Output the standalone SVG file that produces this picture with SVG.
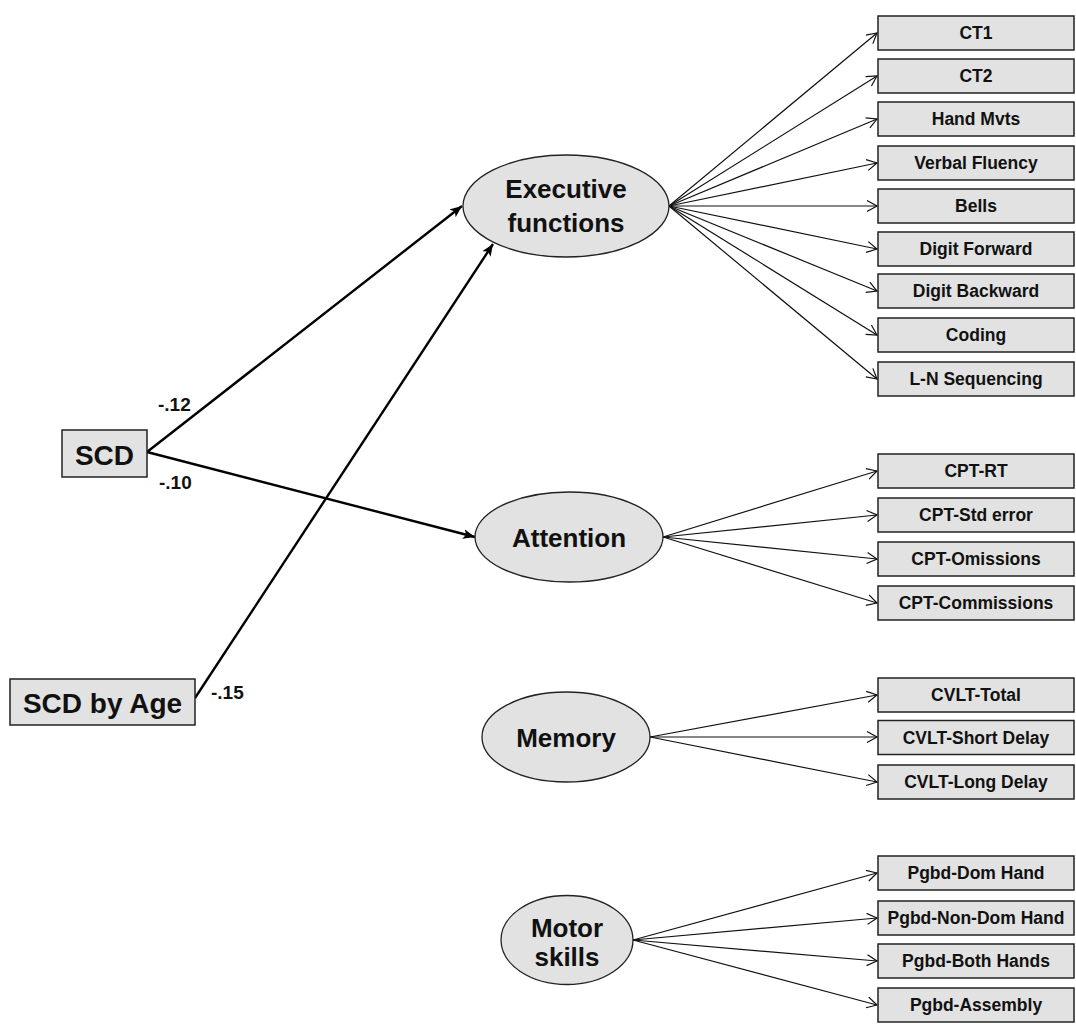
<svg xmlns="http://www.w3.org/2000/svg" width="1076" height="1030" viewBox="0 0 1076 1030">
<style>
.box{fill:#e2e2e2;stroke:#222;stroke-width:1.5}
.ell{fill:#e2e2e2;stroke:#222;stroke-width:1.3}
.bt{font-family:"Liberation Sans",Arial,sans-serif;font-weight:bold;font-size:17.5px;text-anchor:middle;fill:#111}
.et{font-family:"Liberation Sans",Arial,sans-serif;font-weight:bold;font-size:26px;text-anchor:middle;fill:#111}
.st{font-family:"Liberation Sans",Arial,sans-serif;font-weight:bold;font-size:28px;text-anchor:middle;fill:#111}
.lab{font-family:"Liberation Sans",Arial,sans-serif;font-weight:bold;font-size:19px;fill:#111}
.thin{stroke:#111;stroke-width:1.2;fill:none;marker-end:url(#open)}
.thick{stroke:#000;stroke-width:2.4;fill:none;marker-end:url(#solid)}
</style>
<defs>
<marker id="open" markerUnits="userSpaceOnUse" markerWidth="14" markerHeight="14" refX="11" refY="6" orient="auto">
<path d="M1,0.5 L11,6 L1,11.5" fill="none" stroke="#111" stroke-width="1.2"/>
</marker>
<marker id="solid" markerUnits="userSpaceOnUse" markerWidth="14" markerHeight="12" refX="12" refY="5" orient="auto">
<path d="M0,0 L12,5 L0,10 L3,5 Z" fill="#000"/>
</marker>
</defs>
<rect width="1076" height="1030" fill="#fff"/>

<g id="connectors">
<line class="thin" x1="669" y1="206" x2="877" y2="33"/>
<line class="thin" x1="669" y1="206" x2="877" y2="76"/>
<line class="thin" x1="669" y1="206" x2="877" y2="119"/>
<line class="thin" x1="669" y1="206" x2="877" y2="163"/>
<line class="thin" x1="669" y1="206" x2="877" y2="206"/>
<line class="thin" x1="669" y1="206" x2="877" y2="249"/>
<line class="thin" x1="669" y1="206" x2="877" y2="291"/>
<line class="thin" x1="669" y1="206" x2="877" y2="335"/>
<line class="thin" x1="669" y1="206" x2="877" y2="379"/>
<line class="thin" x1="663" y1="537" x2="877" y2="471"/>
<line class="thin" x1="663" y1="537" x2="877" y2="515"/>
<line class="thin" x1="663" y1="537" x2="877" y2="559"/>
<line class="thin" x1="663" y1="537" x2="877" y2="603"/>
<line class="thin" x1="650" y1="737" x2="877" y2="695"/>
<line class="thin" x1="650" y1="737" x2="877" y2="737"/>
<line class="thin" x1="650" y1="737" x2="877" y2="782"/>
<line class="thin" x1="633" y1="940" x2="877" y2="873"/>
<line class="thin" x1="633" y1="940" x2="877" y2="918"/>
<line class="thin" x1="633" y1="940" x2="877" y2="961"/>
<line class="thin" x1="633" y1="940" x2="877" y2="1005"/>
<line class="thick" x1="147" y1="452" x2="462" y2="206"/>
<line class="thick" x1="147" y1="452" x2="475" y2="537"/>
<line class="thick" x1="195" y1="698" x2="493" y2="244"/>
<text class="lab" x="158" y="411">-.12</text>
<text class="lab" x="159" y="489">-.10</text>
<text class="lab" x="211" y="699">-.15</text>
</g>

<g id="scd"><rect class="box" x="62" y="430" width="85" height="47"/><text class="st" x="104.5" y="465">SCD</text></g>
<g id="scd-age"><rect class="box" x="10" y="679" width="185" height="46"/><text class="st" x="102.5" y="713">SCD by Age</text></g>

<g id="executive"><ellipse class="ell" cx="566" cy="206" rx="103" ry="51"/><text class="et" x="566" y="198">Executive</text><text class="et" x="566" y="232">functions</text></g>
<g id="attention"><ellipse class="ell" cx="569" cy="537" rx="94" ry="45"/><text class="et" x="569" y="546.5">Attention</text></g>
<g id="memory"><ellipse class="ell" cx="566" cy="737" rx="84" ry="45"/><text class="et" x="566" y="746.5">Memory</text></g>
<g id="motor"><ellipse class="ell" cx="567" cy="940" rx="66" ry="44.5"/><text class="et" x="567" y="937">Motor</text><text class="et" x="567" y="966">skills</text></g>

<g id="ct1"><rect class="box" x="878" y="16" width="196" height="34"/><text class="bt" x="976" y="39.3">CT1</text></g>
<g id="ct2"><rect class="box" x="878" y="59" width="196" height="34"/><text class="bt" x="976" y="82.3">CT2</text></g>
<g id="hand-mvts"><rect class="box" x="878" y="102" width="196" height="34"/><text class="bt" x="976" y="125.3">Hand Mvts</text></g>
<g id="verbal-fluency"><rect class="box" x="878" y="146" width="196" height="34"/><text class="bt" x="976" y="169.3">Verbal Fluency</text></g>
<g id="bells"><rect class="box" x="878" y="189" width="196" height="34"/><text class="bt" x="976" y="212.3">Bells</text></g>
<g id="digit-forward"><rect class="box" x="878" y="232" width="196" height="34"/><text class="bt" x="976" y="255.3">Digit Forward</text></g>
<g id="digit-backward"><rect class="box" x="878" y="274" width="196" height="34"/><text class="bt" x="976" y="297.3">Digit Backward</text></g>
<g id="coding"><rect class="box" x="878" y="318" width="196" height="34"/><text class="bt" x="976" y="341.3">Coding</text></g>
<g id="ln-seq"><rect class="box" x="878" y="362" width="196" height="34"/><text class="bt" x="976" y="385.3">L-N Sequencing</text></g>

<g id="cpt-rt"><rect class="box" x="878" y="454" width="196" height="34"/><text class="bt" x="976" y="477.3">CPT-RT</text></g>
<g id="cpt-std"><rect class="box" x="878" y="498" width="196" height="34"/><text class="bt" x="976" y="521.3">CPT-Std error</text></g>
<g id="cpt-om"><rect class="box" x="878" y="542" width="196" height="34"/><text class="bt" x="976" y="565.3">CPT-Omissions</text></g>
<g id="cpt-com"><rect class="box" x="878" y="586" width="196" height="34"/><text class="bt" x="976" y="609.3">CPT-Commissions</text></g>

<g id="cvlt-total"><rect class="box" x="878" y="678" width="196" height="34"/><text class="bt" x="976" y="701.3">CVLT-Total</text></g>
<g id="cvlt-short"><rect class="box" x="878" y="720.5" width="196" height="34"/><text class="bt" x="976" y="743.8">CVLT-Short Delay</text></g>
<g id="cvlt-long"><rect class="box" x="878" y="765" width="196" height="34"/><text class="bt" x="976" y="788.3">CVLT-Long Delay</text></g>

<g id="pgbd-dom"><rect class="box" x="878" y="856" width="196" height="34"/><text class="bt" x="976" y="879.3">Pgbd-Dom Hand</text></g>
<g id="pgbd-nondom"><rect class="box" x="878" y="901" width="196" height="34"/><text class="bt" x="976" y="924.3">Pgbd-Non-Dom Hand</text></g>
<g id="pgbd-both"><rect class="box" x="878" y="944" width="196" height="34"/><text class="bt" x="976" y="967.3">Pgbd-Both Hands</text></g>
<g id="pgbd-assembly"><rect class="box" x="878" y="988" width="196" height="34"/><text class="bt" x="976" y="1011.3">Pgbd-Assembly</text></g>
</svg>
